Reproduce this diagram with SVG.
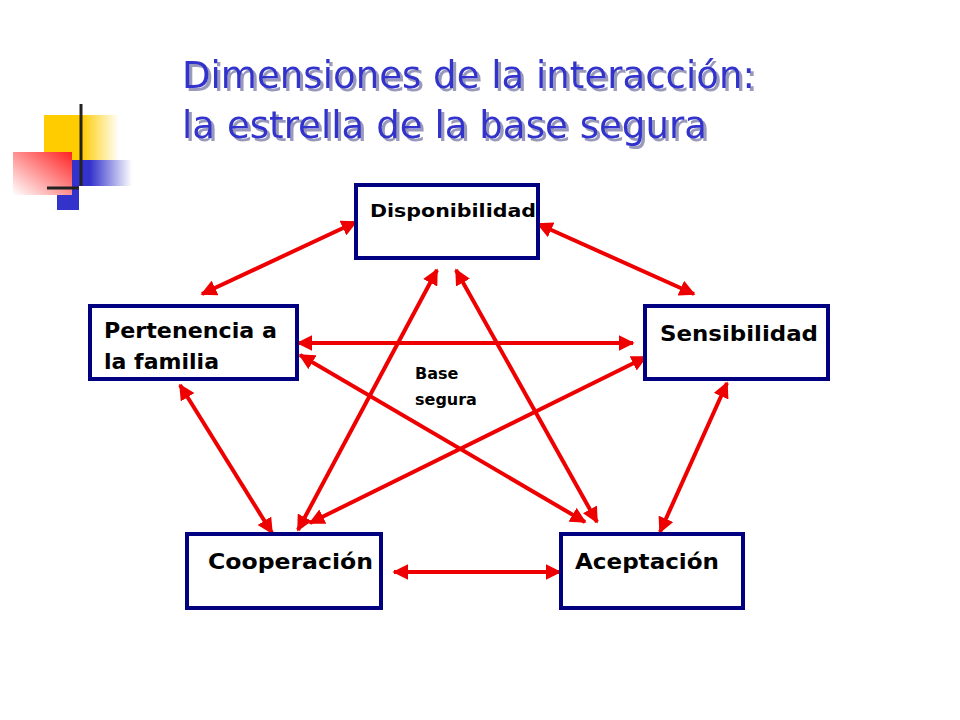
<svg xmlns="http://www.w3.org/2000/svg" width="960" height="720" viewBox="0 0 960 720">
<style>
.t{font-family:"DejaVu Sans","Liberation Sans",sans-serif;font-size:37px;fill:#3333cc;filter:url(#sh)}
.box{fill:#fff;stroke:#000080;stroke-width:4}
.lb{font-family:"DejaVu Sans","Liberation Sans",sans-serif;font-weight:bold;font-size:22px;fill:#000}
.ar{stroke:#ee0000;stroke-width:4;fill:none;marker-start:url(#h);marker-end:url(#h)}
</style>
<defs>
<filter id="sh" x="-5%" y="-20%" width="110%" height="150%"><feDropShadow dx="3" dy="3" stdDeviation="0.5" flood-color="#9999bb"/></filter>
<marker id="h" viewBox="0 0 10 10" refX="9" refY="5" markerWidth="4" markerHeight="4" orient="auto-start-reverse" markerUnits="strokeWidth"><path d="M0,0L10,5L0,10z" fill="#ee0000"/></marker>
<linearGradient id="gy" x1="0" x2="1"><stop offset="0.5" stop-color="#ffcc00"/><stop offset="1" stop-color="#fff"/></linearGradient>
<linearGradient id="gb" x1="0" x2="1"><stop offset="0.3" stop-color="#3333cc"/><stop offset="1" stop-color="#fff"/></linearGradient>
<linearGradient id="gr" x1="1" y1="0" x2="0" y2="1"><stop offset="0" stop-color="#ff2222"/><stop offset="1" stop-color="#fff"/></linearGradient>
</defs>
<g id="logo">
<rect x="44" y="115" width="75" height="46" fill="url(#gy)"/>
<rect x="72" y="160" width="60" height="26" fill="url(#gb)"/>
<rect x="57" y="186" width="22" height="24" fill="#3333cc"/>
<rect x="13" y="152" width="59" height="43" fill="url(#gr)"/>
<line x1="81" y1="104" x2="81" y2="186" stroke="#222" stroke-width="3"/>
<line x1="47" y1="188" x2="79" y2="188" stroke="#222" stroke-width="3"/>
</g>
<g id="title">
<text class="t" x="182" y="88" textLength="573" lengthAdjust="spacingAndGlyphs">Dimensiones de la interacción:</text>
<text class="t" x="182" y="138" textLength="525" lengthAdjust="spacingAndGlyphs">la estrella de la base segura</text>
</g>
<g id="connectors">
<line class="ar" x1="202" y1="294" x2="356" y2="222"/>
<line class="ar" x1="538" y1="224" x2="694" y2="294"/>
<line class="ar" x1="298" y1="343" x2="633" y2="343"/>
<line class="ar" x1="300" y1="355" x2="585" y2="522"/>
<line class="ar" x1="310" y1="523" x2="646" y2="357"/>
<line class="ar" x1="180" y1="385" x2="272" y2="533"/>
<line class="ar" x1="727" y1="383" x2="660" y2="532"/>
<line class="ar" x1="394" y1="572" x2="560" y2="572"/>
<line class="ar" x1="298" y1="530" x2="437" y2="270"/>
<line class="ar" x1="456" y1="270" x2="597" y2="522"/>
</g>
<g id="n-disp"><rect class="box" x="356" y="185" width="182" height="73"/><text class="lb" x="370" y="217" style="font-size:18px" textLength="166" lengthAdjust="spacingAndGlyphs">Disponibilidad</text></g>
<g id="n-pert"><rect class="box" x="90" y="306" width="207" height="73"/><text class="lb" x="104" y="338" textLength="173" lengthAdjust="spacingAndGlyphs">Pertenencia a</text><text class="lb" x="104" y="369" textLength="115" lengthAdjust="spacingAndGlyphs">la familia</text></g>
<g id="n-sens"><rect class="box" x="645" y="306" width="183" height="73"/><text class="lb" x="660" y="341" textLength="158" lengthAdjust="spacingAndGlyphs">Sensibilidad</text></g>
<g id="n-coop"><rect class="box" x="187" y="534" width="194" height="74"/><text class="lb" x="208" y="569" textLength="165" lengthAdjust="spacingAndGlyphs">Cooperación</text></g>
<g id="n-acep"><rect class="box" x="561" y="534" width="182" height="74"/><text class="lb" x="575" y="569" textLength="144" lengthAdjust="spacingAndGlyphs">Aceptación</text></g>
<g id="base"><text class="lb" style="font-size:16px" x="415" y="379">Base</text><text class="lb" style="font-size:16px" x="415" y="405">segura</text></g>
</svg>
